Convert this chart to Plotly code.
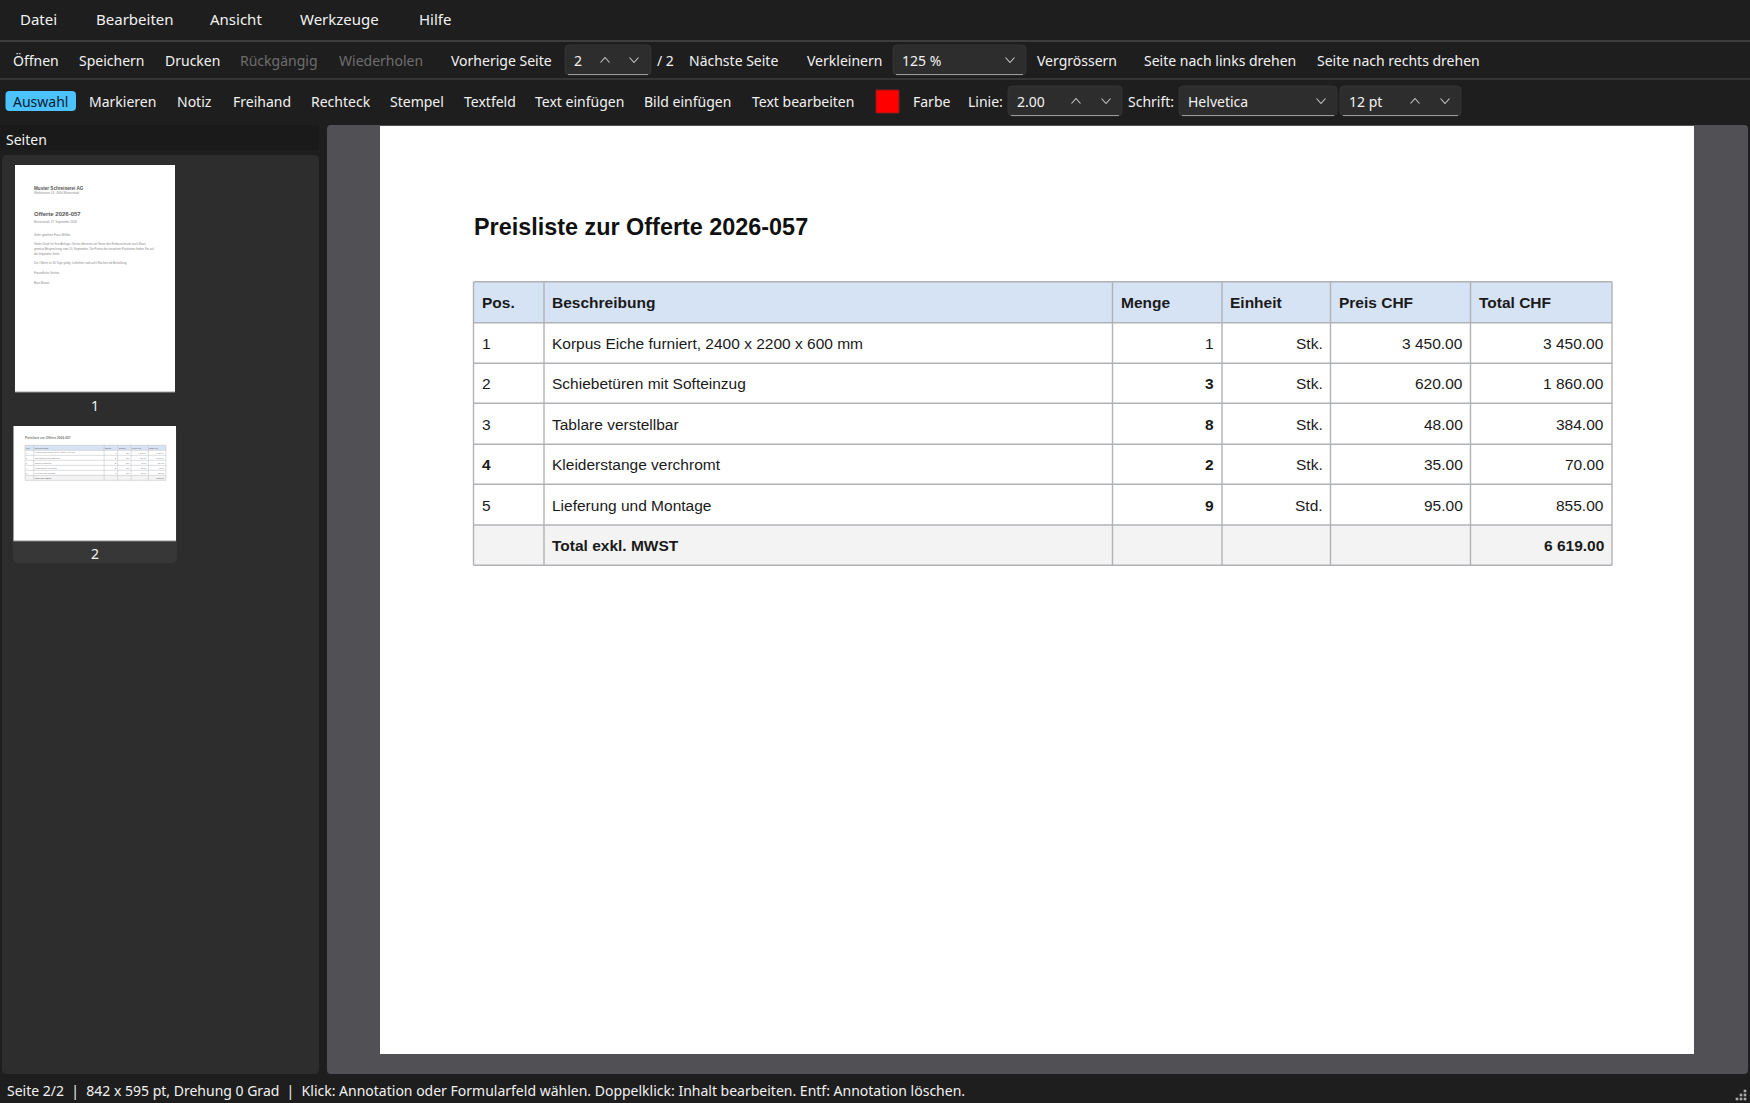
import plotly.graph_objects as go

# window size, everything below is laid out in screen pixels
W = 1750
H = 1103

BG = "#1e1e1e"
TXT = "#f2f2f2"
UI_FONT = "Noto Sans"
DOC_FONT = "Liberation Sans"

menu_labels = ["Datei", "Bearbeiten", "Ansicht", "Werkzeuge", "Hilfe"]
menu_x = [20, 96, 210, 300, 419]

tool1_labels = ["Öffnen", "Speichern", "Drucken", "Rückgängig", "Wiederholen", "Vorherige Seite", "/ 2",
                "Nächste Seite", "Verkleinern", "Vergrössern", "Seite nach links drehen", "Seite nach rechts drehen"]
tool1_x = [13, 79, 165, 240, 339, 451, 657, 689, 807, 1037, 1144, 1317]
tool1_disabled = ["Rückgängig", "Wiederholen"]

tool2_labels = ["Markieren", "Notiz", "Freihand", "Rechteck", "Stempel", "Textfeld", "Text einfügen", "Bild einfügen",
                "Text bearbeiten", "Farbe", "Linie:", "Schrift:"]
tool2_x = [89, 177, 233, 311, 390, 464, 535, 644, 752, 913, 968, 1128]

status_text = "Seite 2/2  |  842 x 595 pt, Drehung 0 Grad  |  Klick: Annotation oder Formularfeld wählen. " \
              "Doppelklick: Inhalt bearbeiten. Entf: Annotation löschen."

# price table
doc_title = "Preisliste zur Offerte 2026-057"
col_names = ["Pos.", "Beschreibung", "Menge", "Einheit", "Preis CHF", "Total CHF"]
pos = ["1", "2", "3", "<b>4</b>", "5", ""]
desc = ["Korpus Eiche furniert, 2400 x 2200 x 600 mm", "Schiebetüren mit Softeinzug", "Tablare verstellbar",
        "Kleiderstange verchromt", "Lieferung und Montage", "<b>Total exkl. MWST</b>"]
qty = ["1", "<b>3</b>", "<b>8</b>", "<b>2</b>", "<b>9</b>", ""]
unit = ["Stk.", "Stk.", "Stk.", "Stk.", "Std.", ""]
price = ["3 450.00", "620.00", "48.00", "35.00", "95.00", ""]
total = ["3 450.00", "1 860.00", "384.00", "70.00", "855.00", "<b>6 619.00</b>"]

col_edges = [473.5, 544, 1112.5, 1222, 1330.5, 1470.5, 1612]
row_edges = [281.7, 322.7, 363.3, 403.3, 444.3, 484.3, 525, 565.3]

# first page thumbnail text: label, y, size, bold
thumb_lines = ["Muster Schreinerei AG", "Werkstrasse 14 · 8000 Musterstadt", "Offerte 2026-057",
               "Musterstadt, 17. September 2026", "Sehr geehrte Frau Müller",
               "Vielen Dank für Ihre Anfrage. Gerne offerieren wir Ihnen den Einbauschrank nach Mass",
               "gemäss Besprechung vom 10. September. Die Preise der einzelnen Positionen finden Sie auf",
               "der folgenden Seite.", "Die Offerte ist 30 Tage gültig. Lieferfrist rund acht Wochen ab Bestellung.",
               "Freundliche Grüsse", "Beat Muster"]
thumb_y = [188, 193, 214, 222, 235, 244, 249, 254, 263, 273, 283]
thumb_size = [4.6, 2.9, 6.0, 2.9, 3.3, 2.9, 2.9, 2.9, 2.9, 2.9, 2.9]

shapes = []
annots = []


def rect(x0, y0, x1, y1, fill, line=None, lw=1):
    shapes.append(dict(type="rect", x0=x0, y0=y0, x1=x1, y1=y1, fillcolor=fill,
                       line=dict(color=line or fill, width=lw if line else 0), layer="below"))


def rrect(x0, y0, x1, y1, r, fill, line=None):
    path = (f"M {x0 + r} {y0} L {x1 - r} {y0} Q {x1} {y0} {x1} {y0 + r} L {x1} {y1 - r} Q {x1} {y1} {x1 - r} {y1} "
            f"L {x0 + r} {y1} Q {x0} {y1} {x0} {y1 - r} L {x0} {y0 + r} Q {x0} {y0} {x0 + r} {y0} Z")
    shapes.append(dict(type="path", path=path, fillcolor=fill,
                       line=dict(color=line or fill, width=1 if line else 0), layer="below"))


def hline(x0, x1, y, color, lw=1):
    shapes.append(dict(type="line", x0=x0, x1=x1, y0=y, y1=y, line=dict(color=color, width=lw), layer="below"))


def vline(x, y0, y1, color, lw=1):
    shapes.append(dict(type="line", x0=x, x1=x, y0=y0, y1=y1, line=dict(color=color, width=lw), layer="below"))


def chevron(x, y, up=False, color="#c8c8c8"):
    d = -2.5 if up else 2.5
    path = f"M {x - 4.5} {y - d} L {x} {y + d} L {x + 4.5} {y - d}"
    shapes.append(dict(type="path", path=path, line=dict(color=color, width=1.1), layer="above"))


def label(x, y, text, size=14, color=TXT, font=UI_FONT, anchor="left"):
    # Noto Sans sits a bit low compared to the original UI font
    if font == UI_FONT:
        y = y - 1
    annots.append(dict(x=x, y=y, text=text, xref="x", yref="y", showarrow=False, xanchor=anchor, yanchor="middle",
                       borderpad=0, borderwidth=0, font=dict(family=font, size=size, color=color)))


def spinbox(x0, x1, y0, y1, text, chevrons):
    rrect(x0, y0, x1, y1, 4, "#2d2d2d", "#333333")
    hline(x0 + 3, x1 - 3, y1 - 0.5, "#9a9a9a", 1.2)
    label(x0 + 9, (y0 + y1) / 2 + 1, text)
    for cx, up in chevrons:
        chevron(cx, (y0 + y1) / 2, up)


def price_table(x_of, y_of, k, title_size, body_size, text_col, line_col, lw):
    # same drawing for the open page and its thumbnail, only scaled
    label(x_of(473.5), y_of(227), "<b>" + doc_title + "</b>", title_size, "#111111" if k == 1 else text_col, DOC_FONT)
    rect(x_of(col_edges[0]), y_of(row_edges[0]), x_of(col_edges[-1]), y_of(row_edges[1]), "#d6e3f5")
    rect(x_of(col_edges[0]), y_of(row_edges[6]), x_of(col_edges[-1]), y_of(row_edges[7]), "#f3f3f3")
    for y in row_edges:
        hline(x_of(col_edges[0]), x_of(col_edges[-1]), y_of(y), line_col, lw)
    for x in col_edges:
        vline(x_of(x), y_of(row_edges[0]), y_of(row_edges[-1]), line_col, lw)

    pad = 8 * k
    columns = [pos, desc, qty, unit, price, total]
    right_cols = [2, 3, 4, 5]
    for c, name in enumerate(col_names):
        yy = (row_edges[0] + row_edges[1]) / 2 + 0.5
        label(x_of(col_edges[c]) + pad, y_of(yy), "<b>" + name + "</b>", body_size, text_col, DOC_FONT)
        for r, val in enumerate(columns[c]):
            if not val:
                continue
            yy = (row_edges[r + 1] + row_edges[r + 2]) / 2 + 0.5
            if c in right_cols:
                label(x_of(col_edges[c + 1]) - pad, y_of(yy), val, body_size, text_col, DOC_FONT, "right")
            else:
                label(x_of(col_edges[c]) + pad, y_of(yy), val, body_size, text_col, DOC_FONT)


# window chrome
rect(0, 0, W, H, BG)
hline(0, W, 41, "#5c5c5c")
hline(0, W, 79, "#4a4a4a")
for t, x in zip(menu_labels, menu_x):
    label(x, 20, t, size=15)
for t, x in zip(tool1_labels, tool1_x):
    label(x, 61, t, color="#6e6e6e" if t in tool1_disabled else TXT)
for t, x in zip(tool2_labels, tool2_x):
    label(x, 102, t)

# page spin box, zoom combo, line / font fields
spinbox(565, 651, 45, 75, "2", [(605, True), (634, False)])
spinbox(893, 1026, 45, 75, "125 %", [(1010, False)])
spinbox(1008, 1122, 86, 116, "2.00", [(1076, True), (1106, False)])
spinbox(1179, 1337, 86, 116, "Helvetica", [(1321, False)])
spinbox(1340, 1461, 86, 116, "12 pt", [(1415, True), (1445, False)])

# active tool button and colour swatch
rrect(5.5, 91, 76, 111, 4, "#4cc2ff")
label(13, 102, "Auswahl", color="#06202e")
rect(876, 90, 899, 113, "#ff0000", "#8a1a1a")

# side panel
rect(0, 125, 319, 150, "#1a1a1a")
label(6, 140, "Seiten")
rrect(2, 155, 319, 1074, 5, "#2d2d2d")
rect(15, 165, 175, 392, "#ffffff")
hline(15, 175, 392, "#9a9a9a")
label(95, 406, "1", anchor="center")
rrect(13, 426, 177, 563, 6, "#373737")
rect(13.5, 426, 176, 541, "#ffffff")
hline(13.5, 176, 541, "#8a8a8a")
label(95, 554, "2", anchor="center")

for t, y, s in zip(thumb_lines, thumb_y, thumb_size):
    bold = s > 4
    label(34, y, "<b>" + t + "</b>" if bold else t, s, "#555555" if bold else "#8a8a8a", DOC_FONT)

# document view and open page
rrect(327, 125, 1748, 1074, 4, "#505055")
rect(380, 126, 1694, 1054, "#ffffff")
price_table(lambda x: x, lambda y: y, 1, 23.4, 15.5, "#1a1a1a", "#b0b2b6", 1.4)

K = 0.1237
price_table(lambda x: 13.5 + (x - 380) * K, lambda y: 426 + (y - 126) * K, K, 3.2, 2.0, "#777777", "#c4c6c9", 0.6)

# status bar
label(7, 1091, status_text)
for gx, gy in [(1745, 1091), (1741, 1095), (1745, 1095), (1737, 1099), (1741, 1099), (1745, 1099)]:
    rect(gx - 1.3, gy - 1.3, gx + 1.3, gy + 1.3, "#ababab")

fig = go.Figure()
fig.update_layout(
    width=W, height=H,
    margin=dict(l=0, r=0, t=0, b=0),
    paper_bgcolor=BG, plot_bgcolor=BG,
    showlegend=False, hovermode=False,
    xaxis=dict(range=[0, W], visible=False, fixedrange=True),
    yaxis=dict(range=[H, 0], visible=False, fixedrange=True),
    shapes=shapes, annotations=annots,
)

fig.write_html("out.html", config=dict(displayModeBar=False),
               post_script="document.body.style.margin='0';document.body.style.background='#1e1e1e';")
